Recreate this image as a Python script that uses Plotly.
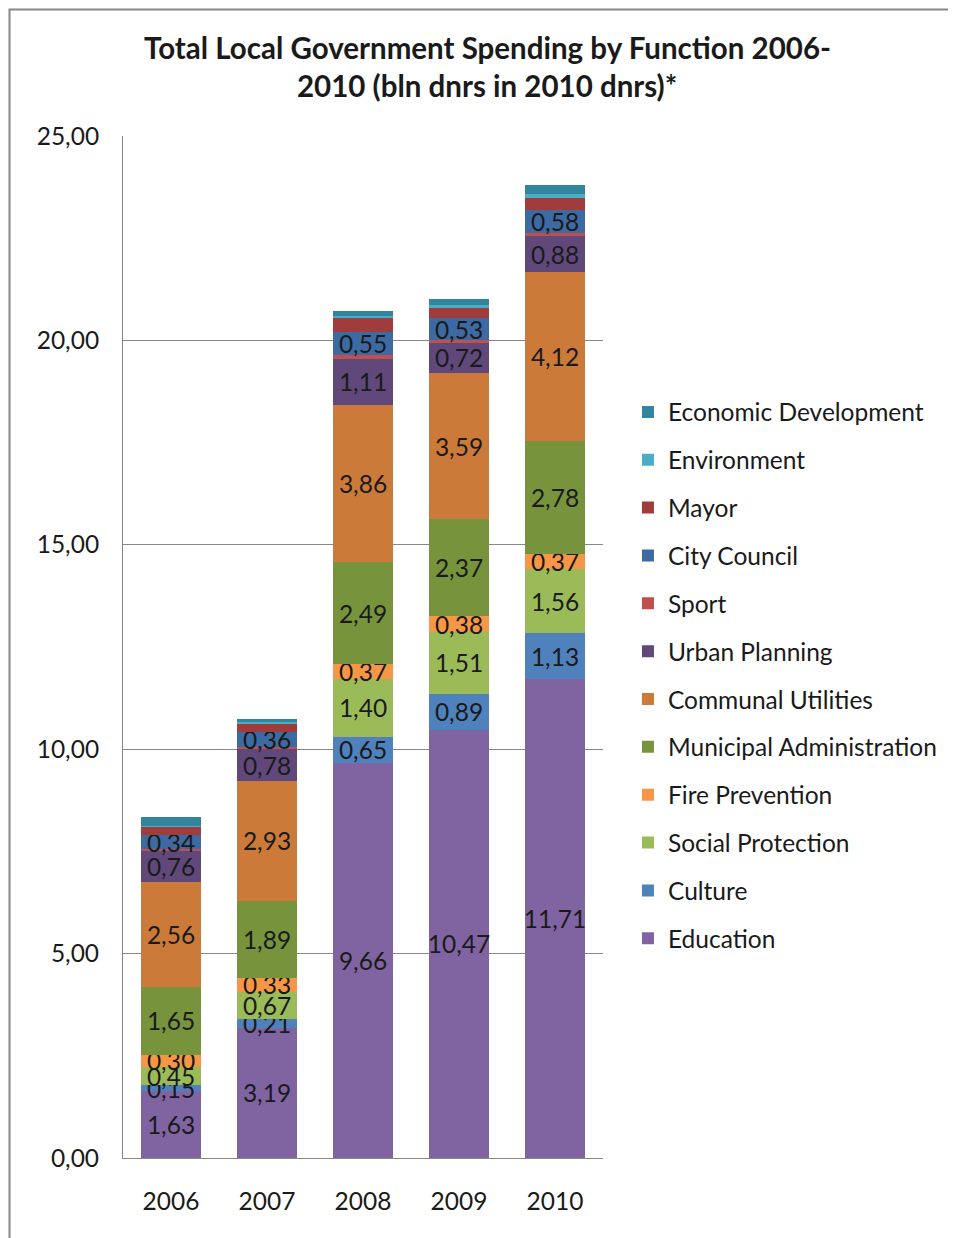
import plotly.graph_objects as go

years = ["2006", "2007", "2008", "2009", "2010"]

education = [1.63, 3.19, 9.66, 10.47, 11.71]
culture = [0.15, 0.21, 0.65, 0.89, 1.13]
social_protection = [0.45, 0.67, 1.40, 1.51, 1.56]
fire_prevention = [0.30, 0.33, 0.37, 0.38, 0.37]
municipal_admin = [1.65, 1.89, 2.49, 2.37, 2.78]
communal_utilities = [2.56, 2.93, 3.86, 3.59, 4.12]
urban_planning = [0.76, 0.78, 1.11, 0.72, 0.88]
sport = [0.05, 0.05, 0.11, 0.08, 0.07]
city_council = [0.34, 0.36, 0.55, 0.53, 0.58]
mayor = [0.22, 0.22, 0.35, 0.26, 0.29]
environment = [0.02, 0.04, 0.05, 0.07, 0.08]
economic_dev = [0.20, 0.07, 0.12, 0.14, 0.22]

series = [
    ("Education", education, "#8064A2", True),
    ("Culture", culture, "#4F81BD", True),
    ("Social Protection", social_protection, "#9BBB59", True),
    ("Fire Prevention", fire_prevention, "#F79646", True),
    ("Municipal Administration", municipal_admin, "#77933C", True),
    ("Communal Utilities", communal_utilities, "#CC7A3A", True),
    ("Urban Planning", urban_planning, "#60497A", True),
    ("Sport", sport, "#C0504D", False),
    ("City Council", city_council, "#3D6AA2", True),
    ("Mayor", mayor, "#A03C3C", False),
    ("Environment", environment, "#4BACC6", False),
    ("Economic Development", economic_dev, "#31859C", False),
]

FONT = "Lato"
FS = 24.5
n = len(series)
fig = go.Figure()
for i, (name, vals, color, labeled) in enumerate(series):
    fig.add_trace(go.Bar(
        x=years, y=vals, name=name, legendgroup=name,
        legendrank=n - i,
        marker=dict(color=color, line=dict(width=0)),
        texttemplate="%{y:.2f}" if labeled else None,
        textposition="inside" if labeled else "none",
        insidetextanchor="middle",
        textangle=0,
        textfont=dict(family=FONT, size=FS, color="#1a1a1a"),
        cliponaxis=False,
    ))

W, H = 948, 1230
L, T = 115, 128
PW, PH = 480, 1022

fig.update_layout(
    width=W, height=H,
    barmode="stack", bargap=0.375,
    separators=",.",
    paper_bgcolor="white", plot_bgcolor="white",
    margin=dict(l=L, r=W - L - PW, t=T, b=H - T - PH),
    font=dict(family=FONT, size=FS, color="#1a1a1a"),
    uniformtext=dict(mode="show", minsize=FS),
    showlegend=True,
    legend=dict(
        traceorder="grouped", tracegroupgap=13,
        x=1.052, xanchor="left", y=0.752, yanchor="top",
        font=dict(family=FONT, size=FS, color="#1a1a1a"),
        bgcolor="rgba(0,0,0,0)",
    ),
    xaxis=dict(
        showgrid=False, showline=True, linecolor="#878787", linewidth=1,
        ticks="", ticklabelstandoff=22,
        tickfont=dict(family=FONT, size=FS, color="#1a1a1a"),
    ),
    yaxis=dict(
        range=[0, 25], dtick=5, tickformat=".2f",
        showgrid=True, gridcolor="#878787", gridwidth=1,
        showline=True, linecolor="#878787", linewidth=1,
        zeroline=False, ticks="", ticklabelstandoff=18,
        tickfont=dict(family=FONT, size=FS, color="#1a1a1a"),
    ),
    annotations=[
        dict(text="<b>Total Local Government Spending by Function 2006-</b>",
             xref="paper", yref="paper", x=(487 - 123) / PW, y=1 + (136 - 47) / PH,
             xanchor="center", yanchor="middle", showarrow=False,
             font=dict(family=FONT, size=29.5, color="#1a1a1a")),
        dict(text="<b>2010 (bln dnrs in 2010 dnrs)*</b>",
             xref="paper", yref="paper", x=(487 - 123) / PW, y=1 + (136 - 85) / PH,
             xanchor="center", yanchor="middle", showarrow=False,
             font=dict(family=FONT, size=29.5, color="#1a1a1a")),
    ],
    shapes=[
        dict(type="rect", xref="paper", yref="paper",
             x0=(1.5 - L) / PW, x1=(W + 20 - L) / PW,
             y0=-(H + 20 - T - PH) / PH, y1=1 + (T - 1.5) / PH,
             line=dict(color="#878787", width=2), fillcolor="rgba(0,0,0,0)", layer="below"),
    ],
)

fig.write_html("out.html")
